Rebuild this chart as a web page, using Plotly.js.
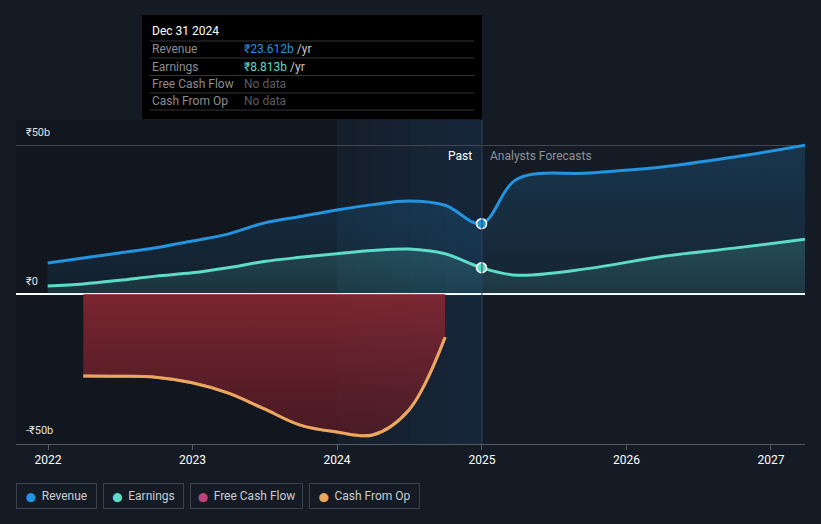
<!DOCTYPE html>
<html>
<head>
<meta charset="utf-8">
<script src="https://cdn.plot.ly/plotly-3.0.1.min.js"></script>
<style>html,body{margin:0;padding:0;background:#151b24;}#chart{width:821px;height:524px;}</style>
</head>
<body>
<div id="chart"></div>
<script>
// ---- data (₹ billions) ----
const pastDates = ['2021-12-31','2022-03-31','2022-06-30','2022-09-30','2022-12-31','2023-03-31','2023-06-30','2023-09-30','2023-12-31','2024-03-31','2024-06-30','2024-09-30','2024-12-31'];
const revenuePast = [10.4, 12.1, 13.8, 15.5, 17.8, 20.1, 23.8, 26.0, 28.2, 30.0, 31.2, 29.8, 23.612];
const earningsPast = [2.7, 3.4, 4.6, 6.0, 7.1, 8.8, 10.9, 12.3, 13.5, 14.6, 15.1, 13.5, 8.813];
const forecastDates = ['2025-03-31','2025-09-30','2026-03-31','2026-09-30','2027-03-31'];
const revenueForecast = [38.6, 40.6, 42.6, 46.0, 50.0];
const earningsForecast = [6.3, 8.6, 12.6, 15.4, 18.4];
const cashDates = ['2022-03-31','2022-06-30','2022-09-30','2022-12-31','2023-03-31','2023-06-30','2023-09-30','2023-12-31','2024-03-31','2024-06-30','2024-09-30'];
const cashFromOp = [-27.5, -27.6, -27.9, -29.8, -33.2, -38.5, -44.0, -46.3, -47.3, -39.0, -14.5];
const freeCashFlow = [-27.5, -27.6, -27.9, -29.8, -33.2, -38.5, -44.0, -46.3, -47.3, -39.0, -14.5];
const yearTicks = ['2022-01-01','2023-01-01','2024-01-01','2025-01-01','2026-01-01','2027-01-01'];
const yearLabels = ['2022','2023','2024','2025','2026','2027'];
const yTickVals = [50, 0, -50];
const yTickLabels = ['₹50b','₹0','-₹50b'];
const legendNames = ['Revenue','Earnings','Free Cash Flow','Cash From Op'];
const tooltipDate = 'Dec 31 2024';

const C = {rev:'#2394df', earn:'#5fdcc9', fcf:'#c0417a', cfo:'#e8a95c'};
const FONT = 'Roboto, "Noto Sans", sans-serif';
const SM = 1.0;

const revDates = pastDates.concat(forecastDates);
const revenue = revenuePast.concat(revenueForecast);
const earnings = earningsPast.concat(earningsForecast);
const lastIdx = pastDates.length - 1;

const traces = [
  {x: revDates, y: revenue, type:'scatter', mode:'lines', line:{color:C.rev, width:3, shape:'spline', smoothing:SM},
   fill:'tozeroy', fillgradient:{type:'vertical', start:0, stop:50, colorscale:[[0,'rgba(33,148,223,0.07)'],[1,'rgba(33,148,223,0.22)']]}, hoverinfo:'skip'},
  {x: revDates, y: earnings, type:'scatter', mode:'lines', line:{color:C.earn, width:3, shape:'spline', smoothing:SM},
   fill:'tozeroy', fillgradient:{type:'vertical', start:0, stop:20, colorscale:[[0,'rgba(95,220,201,0.10)'],[1,'rgba(95,220,201,0.20)']]}, hoverinfo:'skip'},
  {x: cashDates, y: freeCashFlow, type:'scatter', mode:'lines', line:{color:C.fcf, width:3, shape:'spline', smoothing:SM},
   fill:'tozeroy', fillgradient:{type:'vertical', start:0, stop:-48, colorscale:[[0,'rgba(140,40,50,0.85)'],[1,'rgba(90,26,36,0.75)']]}, hoverinfo:'skip'},
  {x: cashDates, y: cashFromOp, type:'scatter', mode:'lines', line:{color:C.cfo, width:3, shape:'spline', smoothing:SM}, hoverinfo:'skip'},
  {x: [pastDates[lastIdx], pastDates[lastIdx]], y: [revenuePast[lastIdx], earningsPast[lastIdx]], type:'scatter', mode:'markers',
   marker:{size:10, color:[C.rev, C.earn], line:{color:'#ffffff', width:1.5}}, hoverinfo:'skip'}
];

// helpers to convert pixel positions into paper coordinates
const L=16, R=805, T=120, B=444;
const px = v => (v - L) / (R - L);
const py = v => (B - v) / (B - T);

const shapes = [];
const annotations = [];

// darker past background
shapes.push({type:'rect', xref:'paper', yref:'paper', x0:0, x1:px(337), y0:0, y1:1, fillcolor:'rgba(0,0,0,0.13)', line:{width:0}, layer:'below'});
// highlighted last year (gradient approximated)
const hs = new Date('2024-01-01').getTime(), he = new Date('2025-01-01').getTime();
const N = 8;
for (let i=0;i<N;i++){
  const a = new Date(hs + (he-hs)*i/N).toISOString().slice(0,10);
  const b = new Date(hs + (he-hs)*(i+1)/N).toISOString().slice(0,10);
  shapes.push({type:'rect', xref:'x', yref:'paper', x0:a, x1:b, y0:0, y1:1, fillcolor:'rgba(30,110,180,'+(0.05+0.1*i/(N-1)).toFixed(3)+')', line:{width:0}, layer:'below'});
}
// today line
shapes.push({type:'line', xref:'x', yref:'paper', x0:'2025-01-01', x1:'2025-01-01', y0:0, y1:1, line:{color:'#2a4360', width:1}});

// y labels
yTickVals.forEach((v,i)=>{
  annotations.push({xref:'paper', yref:'y', x:0, y:v, xanchor:'left', yanchor:'bottom', xshift:8, yshift:4, showarrow:false,
    text:yTickLabels[i], font:{family:FONT, size:11, color:'#e0e0e0'}});
});
// Past / Forecast
annotations.push({xref:'x', yref:'paper', x:'2025-01-01', y:py(156), xanchor:'right', yanchor:'middle', xshift:-8, showarrow:false,
  text:'Past', font:{family:FONT, size:12, color:'#ffffff'}});
annotations.push({xref:'x', yref:'paper', x:'2025-01-01', y:py(156), xanchor:'left', yanchor:'middle', xshift:6, showarrow:false,
  text:'Analysts Forecasts', font:{family:FONT, size:12, color:'#8c929a'}});

// tooltip box
shapes.push({type:'rect', xref:'paper', yref:'paper', x0:px(142), x1:px(482), y0:py(119), y1:py(15), fillcolor:'#000000', line:{width:0}});
[41, 58, 75.5, 93, 110].forEach(yy=>{
  shapes.push({type:'line', xref:'paper', yref:'paper', x0:px(150), x1:px(474), y0:py(yy), y1:py(yy), line:{color:'#333538', width:1}});
});
annotations.push({xref:'paper', yref:'paper', x:px(150), y:py(31), xanchor:'left', yanchor:'middle', showarrow:false,
  text:tooltipDate, font:{family:FONT, size:12, color:'#ffffff'}});
const rows = [
  [legendNames[0], '<span style="color:'+C.rev+'">₹'+revenuePast[lastIdx].toFixed(3)+'b</span> /yr'],
  [legendNames[1], '<span style="color:'+C.earn+'">₹'+earningsPast[lastIdx].toFixed(3)+'b</span> /yr'],
  [legendNames[2], '<span style="color:#5a5d62">No data</span>'],
  [legendNames[3], '<span style="color:#5a5d62">No data</span>']
];
[49, 66.5, 84, 101].forEach((yy,i)=>{
  annotations.push({xref:'paper', yref:'paper', x:px(150), y:py(yy), xanchor:'left', yanchor:'middle', showarrow:false,
    text:rows[i][0], font:{family:FONT, size:12, color:'#8a8d92'}});
  annotations.push({xref:'paper', yref:'paper', x:px(242), y:py(yy), xanchor:'left', yanchor:'middle', showarrow:false,
    text:rows[i][1], font:{family:FONT, size:12, color:'#c8c8c8'}});
});

// custom legend boxes
const legBoxes = [[16,97],[103,184],[190,303],[309,420]];
const legColors = [C.rev, C.earn, C.fcf, C.cfo];
legBoxes.forEach((b,i)=>{
  annotations.push({xref:'paper', yref:'paper', x:px((b[0]+b[1])/2), y:py(496), xanchor:'center', yanchor:'middle', showarrow:false,
    width:b[1]-b[0]-2, height:24, borderwidth:1, bordercolor:'#3b424d', borderpad:0, bgcolor:'rgba(0,0,0,0)',
    text:'<span style="color:'+legColors[i]+';font-family:DejaVu Sans;font-size:9px">⬤</span>  '+legendNames[i], font:{family:FONT, size:12, color:'#c8ccd2'}});
});

const layout = {
  width:821, height:524,
  margin:{l:L, r:821-R, t:T, b:524-B, pad:0},
  paper_bgcolor:'#151b24', plot_bgcolor:'#151b24',
  showlegend:false,
  font:{family:FONT, color:'#ffffff'},
  xaxis:{type:'date', range:['2021-10-12','2027-03-28'], tickvals:yearTicks, ticktext:yearLabels,
    ticks:'outside', ticklen:5, tickcolor:'#555a62', showline:true, linecolor:'#555a62', linewidth:1,
    showgrid:false, zeroline:false, tickfont:{family:FONT, size:12, color:'#ffffff'}, fixedrange:true},
  yaxis:{range:[-50.34, 58.4], tickvals:[50], showticklabels:false, showgrid:true, gridcolor:'#41464e', gridwidth:1,
    zeroline:true, zerolinecolor:'#ffffff', zerolinewidth:1.5, showline:false, fixedrange:true},
  shapes:shapes, annotations:annotations
};

Plotly.newPlot('chart', traces, layout, {displayModeBar:false, staticPlot:true});
</script>
</body>
</html>
